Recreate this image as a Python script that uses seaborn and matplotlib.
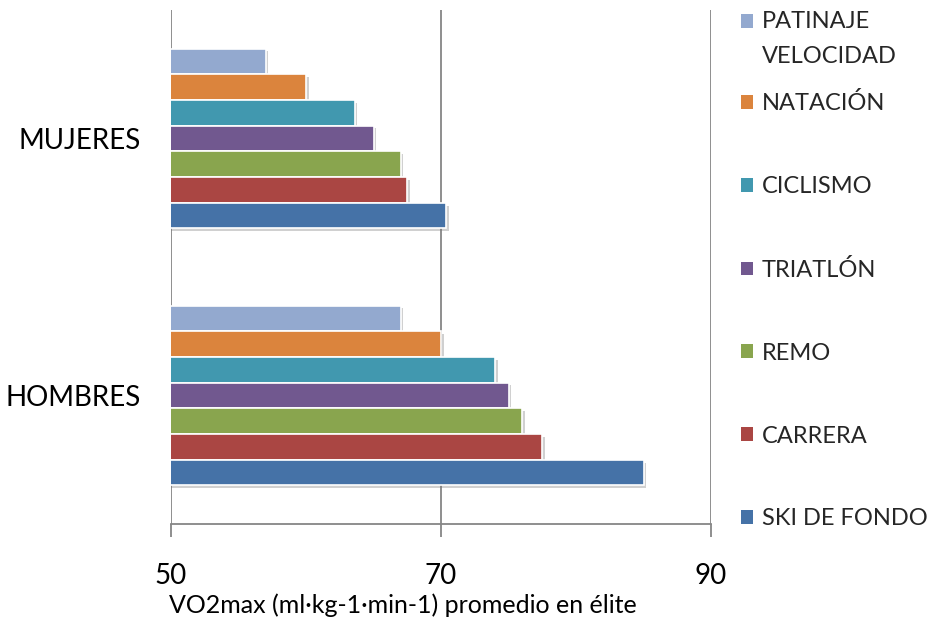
import matplotlib
matplotlib.use("Agg")
import matplotlib.pyplot as plt
import matplotlib.patheffects as pe
from matplotlib.patches import Rectangle
from matplotlib.legend_handler import HandlerPatch
import seaborn as sns
import pandas as pd

sexos = ["MUJERES", "HOMBRES"]
deportes = ["PATINAJE\nVELOCIDAD", "NATACIÓN", "CICLISMO", "TRIATLÓN", "REMO", "CARRERA", "SKI DE FONDO"]
mujeres = [57, 60, 63.6, 65, 67, 67.5, 70.4]
hombres = [67, 70, 74, 75, 76, 77.5, 85]
colores = ["#93A9CF", "#DB843D", "#4198AF", "#71588F", "#89A54E", "#AA4643", "#4572A7"]
xticks = [50, 70, 90]
xlabel = "VO2max (ml·kg-1·min-1) promedio en élite"

rows = []
for d, m, h in zip(deportes, mujeres, hombres):
    rows.append({"sexo": "MUJERES", "deporte": d, "valor": m})
    rows.append({"sexo": "HOMBRES", "deporte": d, "valor": h})
df = pd.DataFrame(rows)

sns.set_theme(style="white")
plt.rcParams["font.family"] = ["Lato", "DejaVu Sans"]

fig = plt.figure(figsize=(9.38, 6.39), dpi=100)
ax = fig.add_axes([171/938, 1-524/639, 540/938, 514/639])

sns.barplot(data=df, x="valor", y="sexo", hue="deporte", order=sexos, hue_order=deportes,
            palette=colores, saturation=1, width=0.70, orient="h", ax=ax,
            edgecolor="white", linewidth=1.2, legend=True)

for p in ax.patches:
    p.set_path_effects([pe.SimplePatchShadow(offset=(2, -2), shadow_rgbFace="#7a7a7a", alpha=0.35),
                        pe.Normal()])

ax.set_xlim(50, 90)
ax.set_xticks(xticks)
ax.set_xticklabels([str(t) for t in xticks], fontsize=20)
ax.xaxis.grid(True, color="#868686", linewidth=1.3)
ax.set_axisbelow(True)
for s in ["top", "right", "left"]:
    ax.spines[s].set_visible(False)
ax.spines["bottom"].set_color("#868686")
ax.spines["bottom"].set_linewidth(1.3)
ax.tick_params(axis="x", length=9, width=1.3, color="#868686", pad=19, labelcolor="black", bottom=True)
ax.tick_params(axis="y", length=0, pad=22, labelsize=20, labelcolor="black")
ax.set_ylabel("")
ax.set_xlabel(xlabel, fontsize=18, labelpad=3, color="black")
ax.xaxis.label.set_x((402.5 - 171) / 540)

handles, labels = ax.get_legend_handles_labels()
ax.get_legend().remove()


def top_patch(legend, orig_handle, xdescent, ydescent, width, height, fontsize):
    return Rectangle((-xdescent, -ydescent + 0.75 * fontsize), width, height)


common = dict(loc="upper left", bbox_transform=fig.transFigure, frameon=False, fontsize=17,
              handlelength=0.52, handleheight=0.52, handletextpad=0.36,
              borderaxespad=0, borderpad=0)
leg1 = ax.legend(handles[:2], labels[:2], bbox_to_anchor=(741/938, 1-11/639),
                 labelspacing=1.08, handler_map={handles[0]: HandlerPatch(patch_func=top_patch)},
                 **common)
for t in leg1.get_texts():
    t.set_linespacing(1.8)
ax.add_artist(leg1)
leg2 = ax.legend(handles[2:], labels[2:], bbox_to_anchor=(741/938, 1-176/639),
                 labelspacing=2.62, **common)
for l in (leg1, leg2):
    for h in l.legend_handles:
        h.set_path_effects([])
        h.set_edgecolor("none")

fig.savefig("out.png", dpi=100)
